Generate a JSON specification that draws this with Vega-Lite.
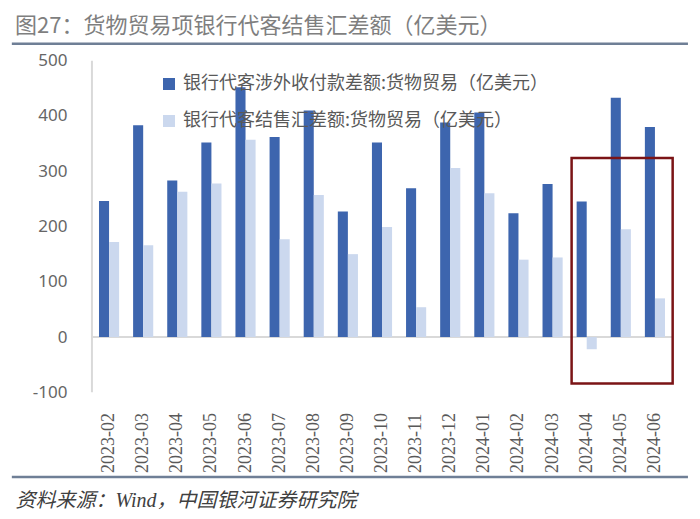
{
  "$schema": "https://vega.github.io/schema/vega-lite/v6.json",
  "width": 676,
  "height": 434,
  "autosize": {"type": "none"},
  "padding": {"left": 12, "right": 12, "top": 43.5, "bottom": 41.5},
  "title": {
    "text": "图27：货物贸易项银行代客结售汇差额（亿美元）",
    "anchor": "start",
    "frame": "group",
    "font": "Noto Sans CJK SC",
    "fontSize": 22,
    "fontWeight": "normal",
    "color": "#7f7f7f",
    "offset": 5,
    "dx": 3
  },
  "config": {"view": {"stroke": null}},
  "datasets": {
    "bars": [
      {"month": "2023-02", "series": "银行代客涉外收付款差额:货物贸易（亿美元）", "value": 246},
      {"month": "2023-03", "series": "银行代客涉外收付款差额:货物贸易（亿美元）", "value": 383},
      {"month": "2023-04", "series": "银行代客涉外收付款差额:货物贸易（亿美元）", "value": 283},
      {"month": "2023-05", "series": "银行代客涉外收付款差额:货物贸易（亿美元）", "value": 352},
      {"month": "2023-06", "series": "银行代客涉外收付款差额:货物贸易（亿美元）", "value": 452},
      {"month": "2023-07", "series": "银行代客涉外收付款差额:货物贸易（亿美元）", "value": 362},
      {"month": "2023-08", "series": "银行代客涉外收付款差额:货物贸易（亿美元）", "value": 410},
      {"month": "2023-09", "series": "银行代客涉外收付款差额:货物贸易（亿美元）", "value": 227},
      {"month": "2023-10", "series": "银行代客涉外收付款差额:货物贸易（亿美元）", "value": 352},
      {"month": "2023-11", "series": "银行代客涉外收付款差额:货物贸易（亿美元）", "value": 269},
      {"month": "2023-12", "series": "银行代客涉外收付款差额:货物贸易（亿美元）", "value": 388},
      {"month": "2024-01", "series": "银行代客涉外收付款差额:货物贸易（亿美元）", "value": 406},
      {"month": "2024-02", "series": "银行代客涉外收付款差额:货物贸易（亿美元）", "value": 224},
      {"month": "2024-03", "series": "银行代客涉外收付款差额:货物贸易（亿美元）", "value": 277},
      {"month": "2024-04", "series": "银行代客涉外收付款差额:货物贸易（亿美元）", "value": 245},
      {"month": "2024-05", "series": "银行代客涉外收付款差额:货物贸易（亿美元）", "value": 433},
      {"month": "2024-06", "series": "银行代客涉外收付款差额:货物贸易（亿美元）", "value": 380},
      {"month": "2023-02", "series": "银行代客结售汇差额:货物贸易（亿美元）", "value": 172},
      {"month": "2023-03", "series": "银行代客结售汇差额:货物贸易（亿美元）", "value": 166},
      {"month": "2023-04", "series": "银行代客结售汇差额:货物贸易（亿美元）", "value": 263},
      {"month": "2023-05", "series": "银行代客结售汇差额:货物贸易（亿美元）", "value": 278},
      {"month": "2023-06", "series": "银行代客结售汇差额:货物贸易（亿美元）", "value": 357},
      {"month": "2023-07", "series": "银行代客结售汇差额:货物贸易（亿美元）", "value": 177},
      {"month": "2023-08", "series": "银行代客结售汇差额:货物贸易（亿美元）", "value": 257},
      {"month": "2023-09", "series": "银行代客结售汇差额:货物贸易（亿美元）", "value": 150},
      {"month": "2023-10", "series": "银行代客结售汇差额:货物贸易（亿美元）", "value": 199},
      {"month": "2023-11", "series": "银行代客结售汇差额:货物贸易（亿美元）", "value": 54},
      {"month": "2023-12", "series": "银行代客结售汇差额:货物贸易（亿美元）", "value": 306},
      {"month": "2024-01", "series": "银行代客结售汇差额:货物贸易（亿美元）", "value": 260},
      {"month": "2024-02", "series": "银行代客结售汇差额:货物贸易（亿美元）", "value": 140},
      {"month": "2024-03", "series": "银行代客结售汇差额:货物贸易（亿美元）", "value": 144},
      {"month": "2024-04", "series": "银行代客结售汇差额:货物贸易（亿美元）", "value": -22},
      {"month": "2024-05", "series": "银行代客结售汇差额:货物贸易（亿美元）", "value": 195},
      {"month": "2024-06", "series": "银行代客结售汇差额:货物贸易（亿美元）", "value": 70}
    ]
  },
  "layer": [
    {
      "data": {"values": [{"a": "2023-02", "b": "2024-06", "edge": 530.5}, {"a": "2023-02", "b": "2024-06", "edge": -253}]},
      "mark": {"type": "rule", "color": "#6f7f96", "strokeWidth": 2.5},
      "encoding": {
        "x": {
          "field": "a", "type": "nominal", "bandPosition": -4.33,
          "scale": {"type": "band", "range": [80, 660], "paddingInner": 0.41, "paddingOuter": 0.205},
          "axis": null
        },
        "x2": {"field": "b", "bandPosition": 2.14},
        "y": {"field": "edge", "type": "quantitative", "scale": {"domain": [-254, 531], "nice": false}, "axis": null}
      }
    },
    {
      "data": {"values": [{"a": "2023-02", "b": "2024-06", "v": 0}]},
      "mark": {"type": "rule", "color": "#d9d9d9", "strokeWidth": 2},
      "encoding": {
        "x": {
          "field": "a", "type": "nominal", "bandPosition": -0.35,
          "scale": {"type": "band", "range": [80, 660], "paddingInner": 0.41, "paddingOuter": 0.205},
          "axis": null
        },
        "x2": {"field": "b", "bandPosition": 1.35},
        "y": {"field": "v", "type": "quantitative", "scale": {"domain": [-254, 531], "nice": false}, "axis": null}
      }
    },
    {
      "data": {"values": [{"a": "2023-02", "lo": -100, "hi": 500}]},
      "mark": {"type": "rule", "color": "#d9d9d9", "strokeWidth": 2},
      "encoding": {
        "x": {
          "field": "a", "type": "nominal", "bandPosition": -0.35,
          "scale": {"type": "band", "range": [80, 660], "paddingInner": 0.41, "paddingOuter": 0.205},
          "axis": null
        },
        "y": {"field": "hi", "type": "quantitative", "scale": {"domain": [-254, 531], "nice": false}, "axis": null},
        "y2": {"field": "lo"}
      }
    },
    {
      "data": {"name": "bars"},
      "mark": {"type": "bar"},
      "encoding": {
        "x": {
          "field": "month", "type": "nominal",
          "scale": {"type": "band", "range": [80, 660], "paddingInner": 0.41, "paddingOuter": 0.205},
          "axis": {
            "orient": "bottom", "offset": 0, "domain": false, "ticks": false, "tickSize": 0, "grid": false,
            "labelAngle": -90, "labelAlign": "left", "labelBaseline": "middle",
            "labelPadding": -5, "labelFont": "Liberation Serif", "labelFontSize": 18,
            "labelColor": "#595959",
            "title": "资料来源：Wind，中国银河证券研究院",
            "titleX": 3, "titleY": 23, "titleAlign": "left", "titleBaseline": "middle",
            "titleAngle": 0, "titleFont": "Liberation Serif, Noto Sans CJK SC", "titleFontStyle": "italic",
            "titleFontWeight": "normal", "titleFontSize": 20, "titleColor": "#404040"
          }
        },
        "xOffset": {
          "field": "series", "type": "nominal",
          "sort": ["银行代客涉外收付款差额:货物贸易（亿美元）", "银行代客结售汇差额:货物贸易（亿美元）"],
          "scale": {"paddingInner": 0, "paddingOuter": 0}
        },
        "y": {
          "field": "value", "type": "quantitative",
          "scale": {"domain": [-254, 531], "nice": false},
          "axis": {
            "orient": "left", "offset": -80, "values": [-100, 0, 100, 200, 300, 400, 500],
            "labelExpr": "'' + datum.value",
            "domain": false, "ticks": false,
            "grid": false, "labelPadding": 25, "labelFont": "Noto Sans", "labelFontSize": 17,
            "labelColor": "#666666", "title": null
          }
        },
        "color": {
          "field": "series", "type": "nominal",
          "sort": ["银行代客涉外收付款差额:货物贸易（亿美元）", "银行代客结售汇差额:货物贸易（亿美元）"],
          "scale": {
            "domain": ["银行代客涉外收付款差额:货物贸易（亿美元）", "银行代客结售汇差额:货物贸易（亿美元）"],
            "range": ["#3d65ae", "#cbd8ee"]
          },
          "legend": {
            "orient": "none", "legendX": 148, "legendY": 31.5, "title": null,
            "symbolType": "square", "symbolSize": 144, "symbolStrokeWidth": 0,
            "labelFont": "Noto Sans CJK SC", "labelFontSize": 18, "labelColor": "#595959",
            "rowPadding": 19, "labelOffset": 5, "labelLimit": 500, "zindex": 0
          }
        }
      }
    },
    {
      "data": {"values": [{"a": "2024-04", "b": "2024-06", "top": 324, "bottom": -84}]},
      "mark": {"type": "rect", "filled": false, "stroke": "#7b1416", "strokeWidth": 2.5},
      "encoding": {
        "x": {
          "field": "a", "type": "nominal", "bandPosition": -0.25,
          "scale": {"type": "band", "range": [80, 660], "paddingInner": 0.41, "paddingOuter": 0.205},
          "axis": null
        },
        "x2": {"field": "b", "bandPosition": 1.38},
        "y": {"field": "top", "type": "quantitative", "scale": {"domain": [-254, 531], "nice": false}, "axis": null},
        "y2": {"field": "bottom"}
      }
    }
  ],
  "resolve": {"axis": {"x": "independent", "y": "independent"}}
}
